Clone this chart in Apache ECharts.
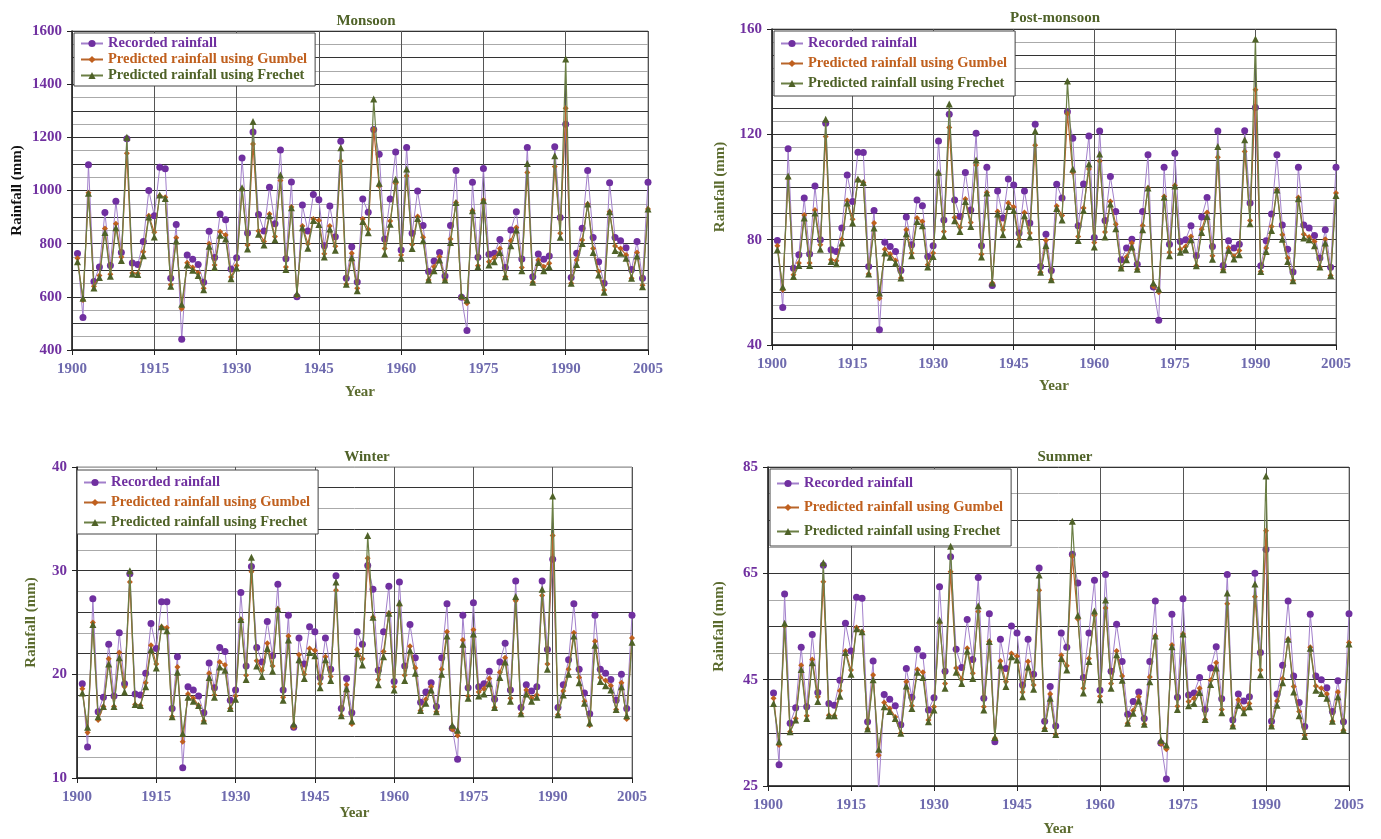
<!DOCTYPE html>
<html lang="en">
<head>
<meta charset="UTF-8">
<title>Rainfall</title>
<script src="https://cdn.jsdelivr.net/npm/echarts@6/dist/echarts.min.js"></script>
<style>
    html, body { margin: 0; padding: 0; background: #fff; }
    #chart { width: 1381px; height: 839px; }
</style>
</head>
<body>
<div id="chart"></div>
<script>
    // years 1901..2005
    var years = [];
    for (var y = 1901; y <= 2005; y++) years.push(y);

    var seriesNames = ['Recorded rainfall', 'Predicted rainfall using Gumbel', 'Predicted rainfall using Frechet'];

    // Monsoon
    var monsoonRecorded = [763,522,1097,658,712,917,718,960,767,1195,
        727,722,808,1000,905,1087,1082,670,872,440,
        757,741,722,655,847,748,912,890,705,747,
        1122,840,1220,910,848,1012,875,1152,743,1032,
        600,945,848,985,965,792,942,826,1185,670,
        788,656,968,918,1229,1136,818,968,1145,776,
        1162,839,998,868,695,735,767,678,868,1075,
        598,473,1031,749,1083,760,764,816,710,851,
        920,742,1162,676,761,741,754,1165,898,1249,
        673,764,858,1075,823,732,651,1029,823,811,
        785,703,808,670,1031];
    var monsoonGumbel = [745,588,992,640,680,857,685,875,750,1140,
        690,688,770,905,843,980,975,645,822,555,
        728,710,690,632,800,720,845,833,675,718,
        1005,795,1175,848,808,912,827,1038,712,938,
        605,866,800,893,887,762,866,790,1111,647,
        764,632,893,854,1229,1017,782,885,1027,757,
        1055,797,902,824,663,713,751,663,818,955,
        598,576,924,717,964,732,747,782,676,811,
        861,710,1068,655,739,713,726,1090,839,1309,
        651,739,814,949,782,695,626,920,791,782,
        757,670,767,644,930];
    var monsoonFrechet = [732,595,990,633,673,842,677,860,737,1200,
        686,684,755,900,825,983,970,640,810,572,
        720,700,680,627,790,710,832,818,668,708,
        1010,780,1260,835,795,905,815,1058,703,935,
        612,860,783,887,872,750,855,775,1161,647,
        747,623,883,841,1344,1027,761,873,1042,745,
        1081,782,895,811,663,698,739,663,804,955,
        604,588,924,713,962,720,732,767,676,792,
        851,698,1102,655,729,698,713,1131,824,1495,
        651,722,801,949,767,682,617,920,774,764,
        745,670,754,638,930];

    // Post-monsoon
    var postRecorded = [79.7,54.2,114.5,69.1,74.3,95.8,74.6,100.4,80.0,124.2,
        76.2,75.5,84.4,104.6,94.5,113.2,113.1,69.8,91.1,45.8,
        79.0,77.4,75.5,68.3,88.6,78.1,95.1,92.9,73.6,77.7,
        117.5,87.5,127.6,95.1,88.8,105.5,91.3,120.4,77.7,107.5,
        62.6,98.5,88.2,103.0,100.8,82.5,98.5,86.3,123.8,69.8,
        82.1,68.3,101.0,95.8,128.6,118.5,85.3,101.1,119.4,80.8,
        121.3,87.3,104.0,90.7,72.4,76.8,80.2,70.7,90.7,112.2,
        62.0,49.4,107.5,78.3,112.8,79.3,80.0,85.3,73.9,88.6,
        96.0,77.4,121.3,70.2,79.6,76.8,78.3,121.4,93.9,130.2,
        70.1,79.6,89.7,112.2,85.6,76.4,67.7,107.5,85.6,84.4,
        81.6,73.0,83.8,69.5,107.5];
    var postGumbel = [77.7,61.0,103.3,66.7,71.1,89.4,71.1,91.3,78.1,119.2,
        72.4,72.0,80.2,94.9,87.8,102.7,101.7,67.0,86.3,57.8,
        76.4,74.6,72.1,65.4,83.8,74.9,88.2,86.9,70.5,74.9,
        105.0,83.1,122.6,88.4,84.6,95.4,86.5,108.4,74.5,97.9,
        63.5,90.7,83.8,93.9,92.4,80.2,90.3,82.5,115.9,67.6,
        79.8,64.8,92.8,89.2,127.8,105.6,81.2,92.0,106.8,78.9,
        109.9,82.9,94.5,85.9,69.2,73.4,78.7,68.8,85.4,99.6,
        62.3,60.0,96.4,75.2,100.6,76.4,77.4,81.2,70.1,84.0,
        90.3,73.9,111.3,68.6,76.8,73.6,75.9,113.5,87.3,136.9,
        67.9,76.8,85.0,98.9,81.9,73.0,64.4,96.0,82.1,81.0,
        79.3,69.6,80.2,66.4,97.7];
    var postFrechet = [76.2,62.0,104.2,66.0,70.2,88.2,70.2,90.1,76.4,125.7,
        71.7,70.9,78.7,93.9,86.3,103.0,101.7,67.0,84.4,59.7,
        74.9,73.3,71.1,65.4,82.2,73.9,86.9,85.3,69.6,73.6,
        105.6,81.2,131.5,87.2,83.1,94.5,85.0,110.3,73.4,97.7,
        63.5,89.7,81.9,92.6,91.1,78.3,89.1,81.0,121.3,67.6,
        77.8,64.8,91.8,87.5,140.3,106.8,79.7,91.1,108.7,77.2,
        112.5,81.0,93.5,84.1,69.2,72.4,77.2,68.8,83.8,99.6,
        63.5,61.2,96.1,73.9,100.4,75.2,76.2,80.0,70.1,82.7,
        88.8,72.6,115.4,68.6,75.9,72.7,74.3,117.9,86.0,156.2,
        67.9,75.5,83.5,98.9,80.2,71.7,64.4,95.5,80.6,80.0,
        77.7,69.6,78.7,66.4,96.8];

    // Winter
    var winterRecorded = [19.1,13.0,27.3,16.4,17.8,22.9,17.9,24.0,19.1,29.7,
        18.1,18.0,20.1,24.9,22.5,27.0,27.0,16.7,21.7,11.0,
        18.8,18.5,17.9,16.3,21.1,18.7,22.6,22.2,17.5,18.5,
        27.9,20.8,30.4,22.6,21.2,25.1,21.8,28.7,18.5,25.7,
        14.9,23.5,21.0,24.6,24.1,19.7,23.5,20.5,29.5,16.7,
        19.6,16.3,24.1,22.9,30.5,28.2,20.4,24.1,28.5,19.3,
        28.9,20.8,24.8,21.6,17.3,18.3,19.2,16.9,21.6,26.8,
        14.8,11.8,25.7,18.7,26.9,18.8,19.1,20.3,17.6,21.2,
        23.0,18.5,29.0,16.8,19.0,18.4,18.8,29.0,22.4,31.1,
        16.8,19.0,21.4,26.8,20.5,18.2,16.2,25.7,20.5,20.1,
        19.5,17.5,20.0,16.7,25.7];
    var winterGumbel = [18.6,14.4,25.0,15.6,16.9,21.5,16.9,22.1,18.8,28.9,
        17.1,17.0,19.2,22.8,21.0,24.6,24.5,15.9,20.7,13.5,
        18.1,17.7,17.0,15.5,20.1,18.0,21.2,20.9,16.7,17.9,
        25.3,19.9,29.9,21.3,20.4,23.0,20.8,26.3,17.8,23.7,
        14.9,21.9,20.0,22.5,22.3,19.1,21.7,19.8,28.1,16.0,
        19.0,15.2,22.4,21.5,31.2,25.5,19.5,22.2,25.9,18.8,
        26.7,19.9,22.7,20.6,16.5,17.6,18.8,16.4,20.5,24.1,
        14.7,14.1,23.3,17.9,24.3,18.3,18.6,19.6,16.8,20.2,
        21.6,17.7,27.1,16.2,18.5,17.7,18.0,27.6,21.0,33.4,
        16.1,18.4,20.5,24.0,19.7,17.4,15.1,23.2,19.7,19.4,
        18.9,16.6,19.2,15.7,23.5];
    var winterFrechet = [18.2,14.9,24.8,15.9,16.9,21.0,16.9,21.6,18.3,30.0,
        17.1,17.0,18.8,22.4,20.6,24.6,24.2,15.9,20.2,14.3,
        17.8,17.4,17.0,15.5,19.7,17.8,20.7,20.4,16.7,17.6,
        25.3,19.5,31.3,20.8,19.8,22.5,20.3,26.3,17.5,23.3,
        15.2,21.4,19.6,22.1,21.8,18.7,21.4,19.4,28.9,16.0,
        18.6,15.5,22.0,20.9,33.4,25.5,19.0,21.7,25.9,18.5,
        26.9,19.4,22.3,20.1,16.5,17.2,18.5,16.4,20.0,23.7,
        15.1,14.6,22.9,17.7,23.9,17.9,18.1,19.1,16.8,19.7,
        21.2,17.4,27.5,16.2,18.1,17.4,17.8,28.2,20.5,37.2,
        16.1,18.0,20.0,23.7,19.2,17.2,15.3,22.8,19.3,18.9,
        18.5,16.6,18.8,16.0,23.1];

    // Summer
    var summerRecorded = [42.5,29.0,61.1,36.8,39.7,51.1,39.9,53.5,42.6,66.5,
        40.5,40.2,44.9,55.6,50.4,60.5,60.3,37.1,48.5,24.0,
        42.2,41.3,40.1,36.5,47.1,41.7,50.7,49.5,39.3,41.6,
        62.5,46.6,68.1,50.7,47.3,56.3,48.8,64.2,41.5,57.4,
        33.3,52.6,47.1,55.1,53.8,44.0,52.6,46.0,66.0,37.2,
        43.7,36.3,53.8,51.1,68.6,63.2,45.4,53.8,63.7,43.0,
        64.8,46.6,55.4,48.4,38.5,40.9,42.7,37.7,48.4,59.8,
        33.1,26.3,57.3,41.7,60.2,42.1,42.5,45.4,39.4,47.2,
        51.2,41.4,64.8,37.4,42.3,41.0,41.8,65.0,50.1,69.5,
        37.2,42.3,47.7,59.8,45.7,40.7,36.2,57.3,45.7,45.0,
        43.5,39.0,44.8,37.1,57.4];
    var summerGumbel = [41.5,32.7,55.1,35.2,37.7,47.7,38.2,48.8,41.8,63.4,
        38.3,38.2,42.9,50.4,46.8,54.8,54.0,35.7,45.9,30.8,
        40.7,39.6,38.0,34.9,44.6,40.1,46.9,46.4,37.4,39.9,
        55.7,44.3,65.3,47.2,45.1,50.9,46.2,57.8,39.9,52.2,
        34.0,48.5,44.6,49.9,49.4,42.7,48.4,44.0,61.8,35.8,
        42.3,34.7,49.6,47.6,68.2,56.4,43.4,49.0,57.1,41.9,
        58.5,44.3,50.4,45.7,36.8,39.2,41.8,36.6,45.5,53.2,
        33.0,31.9,51.5,40.0,53.6,40.9,41.5,43.4,37.5,44.9,
        48.2,39.4,59.3,36.3,41.2,39.4,40.5,60.6,46.8,73.0,
        36.3,41.0,45.2,52.6,43.7,39.0,34.6,51.1,43.8,43.4,
        42.3,37.2,42.7,35.5,52.0];
    var summerFrechet = [40.5,33.3,55.6,35.2,37.4,46.9,37.7,48.2,40.9,67.0,
        38.2,38.2,41.9,50.1,46.0,54.6,54.0,35.7,45.0,31.9,
        39.9,39.0,37.7,34.9,43.8,39.6,46.4,45.4,37.1,39.3,
        56.2,43.4,70.1,46.4,44.3,50.4,45.2,58.9,39.3,52.2,
        34.1,47.7,43.7,49.3,48.7,41.8,47.4,43.2,64.7,35.8,
        41.5,34.7,49.0,46.8,74.8,57.1,42.5,48.4,57.9,41.2,
        60.0,43.4,49.7,44.9,36.8,38.7,41.0,36.6,44.6,53.2,
        33.6,32.7,51.2,39.4,53.6,40.1,40.5,42.6,37.5,44.1,
        47.2,38.8,61.3,36.3,40.2,38.8,39.9,63.0,45.9,83.3,
        36.3,40.2,44.4,52.6,42.7,38.2,34.3,50.9,43.0,42.4,
        41.5,37.2,41.8,35.5,51.7];

    var FONT = "'Liberation Serif', 'Times New Roman', serif";
    var C_REC = '#7030A0', C_GUM = '#C0601E', C_FRE = '#4F6228';

    var panels = [
        {title: 'Monsoon', tx: 361, ty: 9, grid: {left: 72, top: 31, width: 576, height: 319},
            min: 400, max: 1600, step: 200, minor: 50, nameColor: '#111', nameGap: 47, xGap: 35,
            legend: {left: 74, top: 33, gap: 1, pad: [3, 8, 3, 6]},
            data: [monsoonRecorded, monsoonGumbel, monsoonFrechet]},
        {title: 'Post-monsoon', tx: 1050, ty: 6, grid: {left: 772, top: 29, width: 564, height: 316},
            min: 40, max: 160, step: 40, minor: 5, nameColor: '#5B6B2E', nameGap: 44, xGap: 34,
            legend: {left: 774, top: 31, gap: 5, pad: [5, 8, 5, 6]},
            data: [postRecorded, postGumbel, postFrechet]},
        {title: 'Winter', tx: 362, ty: 445, grid: {left: 77, top: 467, width: 555, height: 311},
            min: 10, max: 40, step: 10, minor: 2, nameColor: '#5B6B2E', nameGap: 38, xGap: 27,
            legend: {left: 77, top: 470, gap: 5, pad: [5, 8, 4, 6]},
            data: [winterRecorded, winterGumbel, winterFrechet]},
        {title: 'Summer', tx: 1060, ty: 445, grid: {left: 768, top: 467, width: 581, height: 319},
            min: 25, max: 85, step: 20, minor: 5, nameColor: '#5B6B2E', nameGap: 41, xGap: 36,
            legend: {left: 770, top: 469, gap: 9, pad: [7, 8, 7, 6]},
            data: [summerRecorded, summerGumbel, summerFrechet]}
    ];

    function pairs(arr) {
        return years.map(function (yr, i) { return [yr, arr[i]]; });
    }
    function plain(v) { return String(v); }

    var option = {
        animation: false,
        backgroundColor: '#fff',
        textStyle: {fontFamily: FONT},
        title: [], grid: [], xAxis: [], yAxis: [], legend: [], series: []
    };

    panels.forEach(function (p, k) {
        option.title.push({
            text: p.title, left: p.tx, top: p.ty, textAlign: 'center',
            textStyle: {fontFamily: FONT, fontSize: 15, fontWeight: 'bold', color: '#4F6228'}
        });
        option.grid.push({
            left: p.grid.left, top: p.grid.top, width: p.grid.width, height: p.grid.height,
            show: true, borderColor: '#888', borderWidth: 1, backgroundColor: 'transparent'
        });
        option.xAxis.push({
            type: 'value', gridIndex: k, min: 1900, max: 2005, interval: 15,
            name: 'Year', nameLocation: 'middle', nameGap: p.xGap,
            nameTextStyle: {fontFamily: FONT, fontSize: 15, fontWeight: 'bold', color: '#5B6B2E'},
            axisLine: {show: true, lineStyle: {color: '#222', width: 1.5}},
            axisTick: {show: true, inside: false, length: 5, lineStyle: {color: '#222'}},
            axisLabel: {fontFamily: FONT, fontSize: 15, fontWeight: 'bold', color: '#6E6AAE', margin: 12, formatter: plain},
            splitLine: {show: true, lineStyle: {color: '#555', width: 1}}
        });
        // labelled axis
        option.yAxis.push({
            type: 'value', gridIndex: k, min: p.min, max: p.max, interval: p.step,
            name: 'Rainfall (mm)', nameLocation: 'middle', nameRotate: 90, nameGap: p.nameGap,
            nameTextStyle: {fontFamily: FONT, fontSize: 15, fontWeight: 'bold', color: p.nameColor},
            axisLine: {show: true, lineStyle: {color: '#222', width: 1.5}},
            axisTick: {show: true, inside: false, length: 5, lineStyle: {color: '#222'}},
            axisLabel: {fontFamily: FONT, fontSize: 15, fontWeight: 'bold', color: C_REC, margin: 10, formatter: plain},
            splitLine: {show: false}
        });
    });
    // minor gridline axes
    panels.forEach(function (p, k) {
        option.yAxis.push({
            type: 'value', gridIndex: k, min: p.min, max: p.max, interval: p.minor,
            axisLine: {show: false}, axisTick: {show: false}, axisLabel: {show: false},
            splitLine: {show: true, lineStyle: {color: ['#333', '#aaa'], width: 1}}
        });
    });

    panels.forEach(function (p, k) {
        option.legend.push({
            orient: 'vertical', left: p.legend.left, top: p.legend.top,
            itemGap: p.legend.gap, padding: p.legend.pad, itemWidth: 22, itemHeight: 9,
            backgroundColor: '#fff', borderColor: '#444', borderWidth: 1,
            textStyle: {fontFamily: FONT, fontSize: 14.5, fontWeight: 'bold'},
            data: [
                {name: seriesNames[0], textStyle: {color: C_REC}},
                {name: seriesNames[1], textStyle: {color: C_GUM}},
                {name: seriesNames[2], textStyle: {color: C_FRE}}
            ]
        });
        option.series.push({
            name: seriesNames[0], type: 'line', xAxisIndex: k, yAxisIndex: k,
            data: pairs(p.data[0]), symbol: 'circle', symbolSize: 7,
            itemStyle: {color: C_REC}, lineStyle: {color: '#A27FCB', width: 1}, z: 3
        });
        option.series.push({
            name: seriesNames[1], type: 'line', xAxisIndex: k, yAxisIndex: k,
            data: pairs(p.data[1]), symbol: 'diamond', symbolSize: 6,
            itemStyle: {color: C_GUM}, lineStyle: {color: '#B8652A', width: 1.2}, z: 4
        });
        option.series.push({
            name: seriesNames[2], type: 'line', xAxisIndex: k, yAxisIndex: k,
            data: pairs(p.data[2]), symbol: 'triangle', symbolSize: 7,
            itemStyle: {color: C_FRE}, lineStyle: {color: '#6B7F45', width: 1.2}, z: 5
        });
    });

    var myChart = echarts.init(document.getElementById('chart'));
    myChart.setOption(option);
</script>
</body>
</html>
